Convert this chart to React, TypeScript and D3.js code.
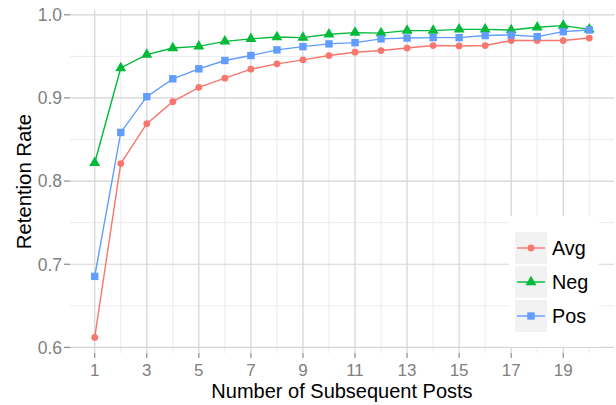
import React from 'react';
import * as d3 from 'd3';

const posts = d3.range(1, 21);
const avgRate = [
  0.612, 0.821, 0.869, 0.8955, 0.9127, 0.9238, 0.9346, 0.941, 0.9458, 0.951,
  0.955, 0.957, 0.96, 0.963, 0.9625, 0.963, 0.969, 0.969, 0.969, 0.972,
];
const negRate = [
  0.822, 0.936, 0.952, 0.96, 0.962, 0.968, 0.971, 0.9733, 0.9725, 0.9765,
  0.9785, 0.978, 0.981, 0.981, 0.9825, 0.9825, 0.9817, 0.985, 0.987, 0.9825,
];
const posRate = [
  0.6854, 0.8585, 0.9015, 0.923, 0.935, 0.945, 0.951, 0.9578, 0.9617, 0.965,
  0.9665, 0.971, 0.972, 0.9725, 0.9725, 0.975, 0.9757, 0.9737, 0.9797, 0.9817,
];
const seriesNames = ['Avg', 'Neg', 'Pos'];
const seriesColors = ['#F8766D', '#00BA38', '#619CFF'];
const xMajor = [1, 3, 5, 7, 9, 11, 13, 15, 17, 19];
const xMinor = [2, 4, 6, 8, 10, 12, 14, 16, 18, 20];
const yMajor = [0.6, 0.7, 0.8, 0.9, 1.0];
const yMinor = [0.65, 0.75, 0.85, 0.95];

const W = 616;
const H = 405;
const margin = { top: 10, right: 2, bottom: 52, left: 70 };
const font = "'Liberation Sans', Arial, sans-serif";

const Marker = ({ kind, x, y, color }: { kind: number; x: number; y: number; color: string }) => {
  if (kind === 0) return <circle cx={x} cy={y} r={3.4} fill={color} />;
  if (kind === 1) {
    const p = d3.symbol(d3.symbolTriangle, 52)();
    return <path d={p || ''} transform={`translate(${x},${y})`} fill={color} />;
  }
  return <rect x={x - 3.7} y={y - 3.7} width={7.4} height={7.4} fill={color} />;
};

const App = () => {
  const all = [...avgRate, ...negRate, ...posRate];
  const yMin = d3.min(all)!;
  const yMax = d3.max(all)!;
  const yPad = (yMax - yMin) * 0.05;
  const x = d3
    .scaleLinear()
    .domain([1 - 0.95, 20 + 0.95])
    .range([margin.left, W - margin.right]);
  const y = d3
    .scaleLinear()
    .domain([yMin - yPad, yMax + yPad])
    .range([H - margin.bottom, margin.top]);

  const line = d3
    .line<number>()
    .x((_, i) => x(posts[i]))
    .y((d) => y(d));

  const data = [avgRate, negRate, posRate];
  const [x0, x1] = x.range();
  const [y0, y1] = y.range();

  return (
    <svg width={W} height={H} style={{ position: 'absolute', left: 0, top: 0 }} fontFamily={font}>
      <rect width={W} height={H} fill="#fff" />
      {/* grid */}
      {yMinor.map((v) => (
        <line key={'ym' + v} x1={x0} x2={x1} y1={y(v)} y2={y(v)} stroke="#ebebeb" strokeWidth={1} />
      ))}
      {xMinor.map((v) => (
        <line key={'xm' + v} x1={x(v)} x2={x(v)} y1={y0} y2={y1} stroke="#ebebeb" strokeWidth={1} />
      ))}
      {yMajor.map((v) => (
        <line key={'yM' + v} x1={x0} x2={x1} y1={y(v)} y2={y(v)} stroke="#d4d4d4" strokeWidth={1.2} />
      ))}
      {xMajor.map((v) => (
        <line key={'xM' + v} x1={x(v)} x2={x(v)} y1={y0} y2={y1} stroke="#d4d4d4" strokeWidth={1.2} />
      ))}
      {/* axes ticks and labels */}
      {yMajor.map((v) => (
        <g key={'yt' + v}>
          <line x1={x0 - 6} x2={x0} y1={y(v)} y2={y(v)} stroke="#8a8a8a" strokeWidth={1.2} />
          <text x={x0 - 8} y={y(v)} dy="0.36em" textAnchor="end" fontSize={17.5} fill="#808080">
            {v.toFixed(1)}
          </text>
        </g>
      ))}
      {xMajor.map((v) => (
        <g key={'xt' + v}>
          <line x1={x(v)} x2={x(v)} y1={y0} y2={y0 + 5} stroke="#8a8a8a" strokeWidth={1.2} />
          <text x={x(v)} y={y0 + 22.5} textAnchor="middle" fontSize={17} fill="#808080">
            {v}
          </text>
        </g>
      ))}
      <text x={(x0 + x1) / 2} y={397.5} textAnchor="middle" fontSize={20} fill="#000">
        Number of Subsequent Posts
      </text>
      <text
        transform={`translate(31,${(y0 + y1) / 2}) rotate(-90)`}
        textAnchor="middle"
        fontSize={20.3}
        fill="#000"
      >
        Retention Rate
      </text>
      {/* series */}
      {data.map((s, k) => (
        <g key={seriesNames[k]}>
          <path d={line(s) || ''} fill="none" stroke={seriesColors[k]} strokeWidth={1.4} />
          {s.map((v, i) => (
            <Marker key={i} kind={k} x={x(posts[i])} y={y(v)} color={seriesColors[k]} />
          ))}
        </g>
      ))}
      {/* legend */}
      <g transform="translate(509,216)">
        <rect width={90} height={131} fill="#fff" />
        {seriesNames.map((n, k) => (
          <g key={n} transform={`translate(6,${16 + k * 34})`}>
            <rect width={32} height={32} fill="#f2f2f2" />
            <line x1={2} x2={30} y1={16} y2={16} stroke={seriesColors[k]} strokeWidth={1.4} />
            <Marker kind={k} x={16} y={16} color={seriesColors[k]} />
            <text x={37} y={16} dy="0.36em" fontSize={19.8} fill="#000">
              {n}
            </text>
          </g>
        ))}
      </g>
    </svg>
  );
};

export default App;
